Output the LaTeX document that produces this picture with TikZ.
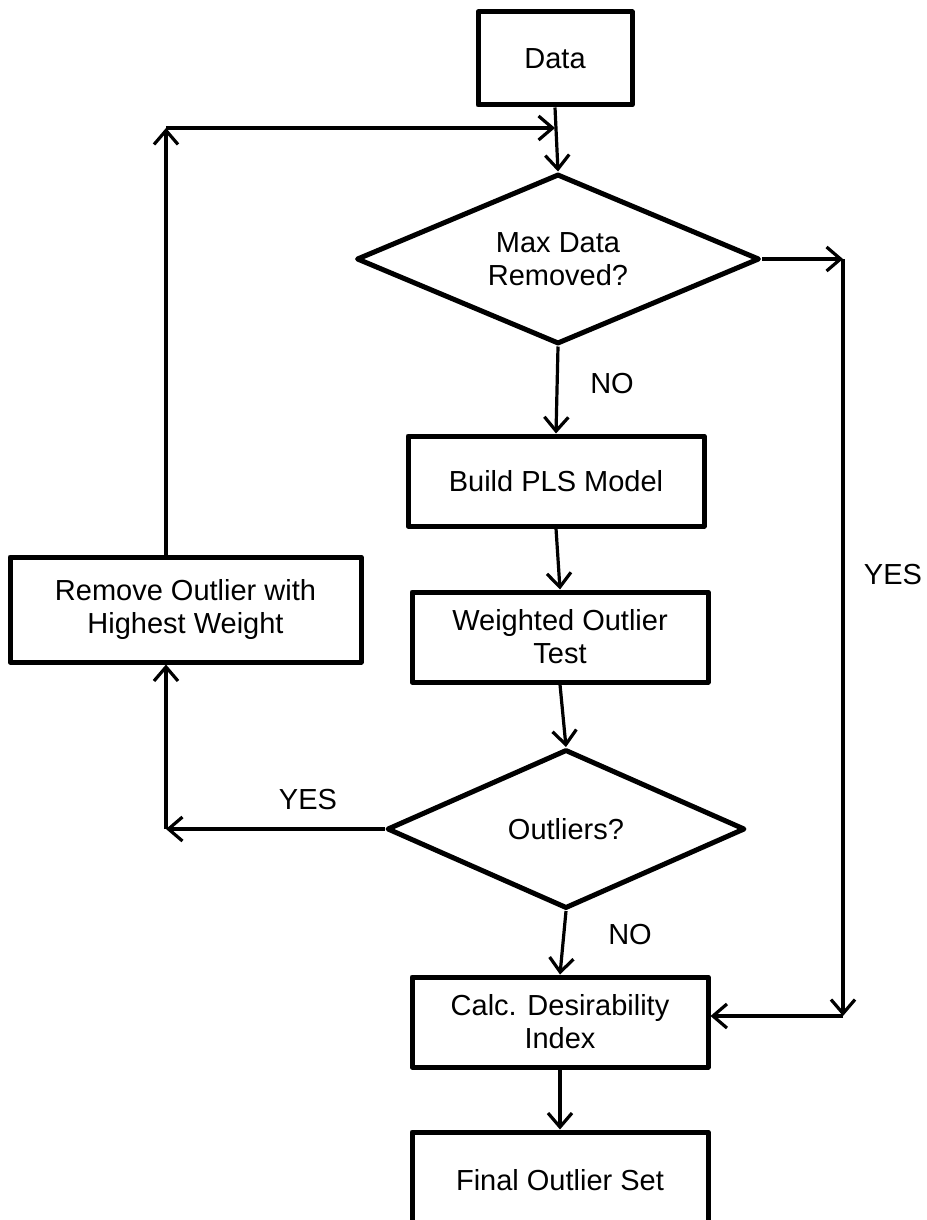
\documentclass[tikz,border=0pt]{standalone}
\usepackage{fontspec}
\setmainfont{Liberation Sans}
\usetikzlibrary{shapes.geometric,arrows.meta}
\begin{document}
\begin{tikzpicture}[x=1pt,y=-1pt,
  every node/.style={font=\fontsize{29}{33}\selectfont, align=center, inner sep=0pt},
  procbox/.style={draw, line width=5pt, line join=round, rectangle},
  decbox/.style={draw, line width=5pt, line join=round, diamond, aspect=2.4},
  lbl/.style={},
  arr/.style={line width=3.2pt, -{Straight Barb[length=14pt,width=24pt,line width=3.2pt]}}
]
\clip (0,0) rectangle (926,1220);
\fill[white] (0,0) rectangle (926,1220);

\node[procbox, minimum width=154pt, minimum height=93pt] (data) at (555,58.5) {Data};
\node[decbox, minimum width=403pt, minimum height=170pt] (d1) at (558,259) {Max Data\\Removed?};
\node[procbox, minimum width=296pt, minimum height=90pt] (build) at (556,481) {Build PLS Model};
\node[procbox, minimum width=296pt, minimum height=90pt] (weighted) at (560,637) {Weighted Outlier\\Test};
\node[decbox, minimum width=358pt, minimum height=159pt] (d2) at (566,829) {Outliers?};
\node[procbox, minimum width=296pt, minimum height=90pt] (calc) at (560,1022) {Calc. Desirability\\Index};
\node[procbox, minimum width=296pt, minimum height=96pt] (final) at (560,1180) {Final Outlier Set};
\node[procbox, minimum width=351pt, minimum height=105pt] (remove) at (185.5,609.5) {Remove Outlier with\\Highest Weight};

\node[lbl] (no1) at (612,384) {NO};
\node[lbl] (no2) at (630,935) {NO};
\node[lbl] (yes1) at (308,800) {YES};
\node[lbl] (yes2) at (893,575) {YES};

\coordinate (lt) at (166,128);
\coordinate (rt) at (843,260);
\coordinate (rb) at (843,1016);

\draw[arr] (data.south) -- (d1.north);
\draw[arr] (d1.south) -- (build.north);
\draw[arr] (build.south) -- (weighted.north);
\draw[arr] (weighted.south) -- (d2.north);
\draw[arr] (d2.south) -- (calc.north);
\draw[arr] (calc.south) -- (final.north);

\draw[arr] (lt |- remove.north) -- (lt);
\draw[arr] (lt) -- (lt -| data.south);

\draw[arr] (d2.west) -- (d2.west -| lt);
\draw[arr] (d2.west -| lt) -- (lt |- remove.south);

\draw[arr] (d1.east) -- (d1.east -| rt);
\draw[arr] (d1.east -| rt) -- (rb);
\draw[arr] (rb) -- (rb -| calc.east);
\end{tikzpicture}
\end{document}
